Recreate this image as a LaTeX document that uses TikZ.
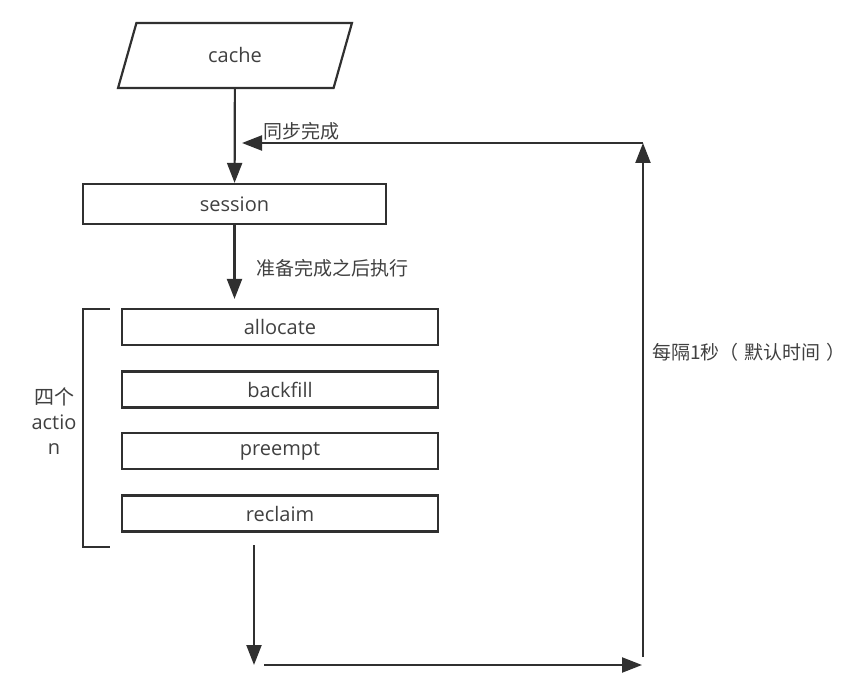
\documentclass[tikz,border=0pt]{standalone}
\usepackage{fontspec}
\setmainfont{Open Sans}
\newfontfamily\cjk{Noto Sans CJK SC}
\usetikzlibrary{arrows.meta,positioning,shapes.geometric}
\definecolor{Ink}{HTML}{303030}
\definecolor{TextGrey}{HTML}{404040}
\tikzset{
  every picture/.style={line width=2.2pt},
  stepbox/.style={
    draw=Ink,
    text=TextGrey,
    font=\fontsize{20}{24}\selectfont,
    minimum height=36pt,
    inner sep=0pt
  },
  actionbox/.style={stepbox, minimum width=316pt},
  sessionbox/.style={stepbox, minimum width=303pt, minimum height=40pt},
  inputbox/.style={
    stepbox,
    trapezium,
    trapezium left angle=72,
    trapezium right angle=108,
    trapezium stretches=true,
    minimum width=234pt,
    minimum height=65pt
  },
  flowarrow/.style={-{Triangle[length=20pt,width=15pt]}, draw=Ink},
  notelabel/.style={font=\cjk\fontsize{19}{25}\selectfont, text=TextGrey, inner sep=0pt, anchor=west},
  bracketline/.style={draw=Ink}
}

\begin{document}
\begin{tikzpicture}[x=1pt,y=-1pt]
  \useasboundingbox (0,0) rectangle (855,698);

  \node[inputbox] (cache) at (235,55.5) {cache};
  \node[sessionbox] (session) at (234.5,204) {session};

  \node[actionbox] (allocate) at (280,327) {allocate};
  \node[actionbox] (backfill) at (280,389.5) {backfill};
  \node[actionbox] (preempt) at (280,451) {preempt};
  \node[actionbox] (reclaim) at (280,513.5) {reclaim};

  % group of the four actions
  \draw[bracketline] (110,309) -- (83,309) -- (83,547) -- (110,547);
  \node[align=center, text=TextGrey, font=\fontsize{20}{25}\selectfont, inner sep=0pt]
    (group) at (54,421) {{\cjk 四个}\\actio\\n};

  % loop points
  \coordinate (outtop) at (254,545);
  \coordinate (outbot) at (254,665);
  \coordinate (rightstart) at (264,665);
  \coordinate (rightend) at (642,665);
  \coordinate (upstart) at (643,657);
  \coordinate (upend) at (643,143);
  \coordinate (backstart) at (643,143);
  \coordinate (backend) at (242,143);

  \draw[flowarrow] (cache) -- (session);
  \draw[flowarrow, shorten >=9pt] (session.south) -- (session.south |- allocate.north);
  \draw[flowarrow] (outtop) -- (outbot);
  \draw[flowarrow] (rightstart) -- (rightend);
  \draw[flowarrow] (upstart) -- (upend);
  \draw[flowarrow] (backstart) -- (backend);

  \node[notelabel] (synclabel) at (262,131) {同步完成};
  \node[notelabel] (readylabel) at (255,268) {准备完成之后执行};
  \node[notelabel] (looplabel) at (651,352)
    {每隔1秒（\hspace{6pt}默认时间\hspace{6pt}）};
\end{tikzpicture}
\end{document}
